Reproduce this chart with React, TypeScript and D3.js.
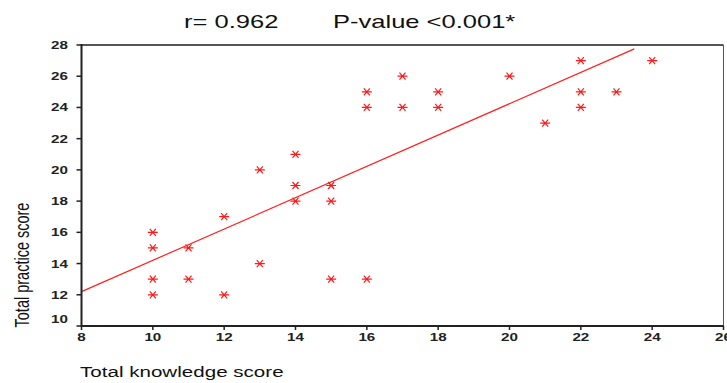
import React from "react";
import * as d3 from "d3";

// knowledge score (x) and practice score (y) for each respondent
const knowledge = [10, 10, 10, 10, 11, 11, 12, 12, 13, 13, 14, 14, 14, 15, 15, 15, 16, 16, 16, 17, 17, 18, 18, 20, 21, 22, 22, 22, 23, 24];
const practice = [16, 15, 13, 12, 15, 13, 17, 12, 20, 14, 21, 19, 18, 19, 18, 13, 25, 24, 13, 26, 24, 25, 24, 26, 23, 27, 25, 24, 25, 27];

// fit line as drawn in the picture
const fitStart = [8, 12.2];
const fitEnd = [23.5, 27.75];

const xTicks = [8, 10, 12, 14, 16, 18, 20, 22, 24, 26];
const yTicks = [10, 12, 14, 16, 18, 20, 22, 24, 26, 28];

const W = 727;
const H = 383;
const FONT = "Arial, 'Liberation Sans', sans-serif";
const STRETCH = 1.38; // the source picture is widened

export default function App() {
    const x = d3.scaleLinear().domain([8, 26]).range([81.5, 723.5]);
    const y = d3.scaleLinear().domain([10, 28]).range([326, 45]);

    const line = d3.line<number[]>().x(d => x(d[0])).y(d => y(d[1]));

    const star = "M-5,0L5,0M-3,-3.5L3,3.5M-3,3.5L3,-3.5";
    const tickFont = { fontFamily: FONT, fontSize: "11px", fontWeight: "bold", fill: "#222" };

    return (
        <svg width={W} height={H} style={{ position: "absolute", left: 0, top: 0, background: "#fff" }}>
            <text transform={`translate(184,28) scale(${STRETCH},1)`} fontFamily={FONT} fontSize="18.5px" fill="#111">r= 0.962</text>
            <text transform={`translate(333,28) scale(${STRETCH},1)`} fontFamily={FONT} fontSize="18.5px" fill="#111">P-value &lt;0.001*</text>

            {/* frame */}
            <line x1={x(8)} x2={x(26)} y1={y(28)} y2={y(28)} stroke="#555" strokeWidth={2} />
            <line x1={x(26)} x2={x(26)} y1={y(28)} y2={y(10)} stroke="#555" strokeWidth={1} />

            {/* regression line */}
            <path d={line([fitStart, fitEnd]) || ""} fill="none" stroke="#ff2020" strokeWidth={1.2} />

            {knowledge.map((k, i) => (
                <path key={i} d={star} transform={`translate(${x(k)},${y(practice[i])})`} stroke="#ff1a1a" strokeWidth={1.2} fill="none" />
            ))}

            {/* y axis */}
            <line x1={x(8)} x2={x(8)} y1={y(28) - 1} y2={y(10) + 1} stroke="#222" strokeWidth={2} />
            {yTicks.map(t => (
                <g key={t}>
                    <line x1={x(8) - 5} x2={x(8)} y1={y(t)} y2={y(t)} stroke="#222" strokeWidth={1.5} />
                    <text transform={`translate(68,${(t === 10 ? y(t) - 7 : y(t)) + 4}) scale(${STRETCH},1)`} textAnchor="end" style={tickFont}>{t}</text>
                </g>
            ))}

            {/* x axis */}
            <line x1={x(8)} x2={x(26)} y1={y(10)} y2={y(10)} stroke="#222" strokeWidth={2} />
            {xTicks.map(t => (
                <g key={t}>
                    <line x1={x(t)} x2={x(t)} y1={y(10)} y2={y(10) + 4} stroke="#222" strokeWidth={1.5} />
                    <text transform={`translate(${x(t)},341) scale(${STRETCH},1)`} textAnchor="middle" style={tickFont}>{t}</text>
                </g>
            ))}

            <text transform={`translate(80,377) scale(1.42,1)`} fontFamily={FONT} fontSize="14.5px" fill="#111">Total knowledge score</text>
            <text transform={`translate(29,265) scale(${STRETCH},1) rotate(-90)`} textAnchor="middle" fontFamily={FONT} fontSize="14.5px" fill="#111">Total practice score</text>
        </svg>
    );
}
